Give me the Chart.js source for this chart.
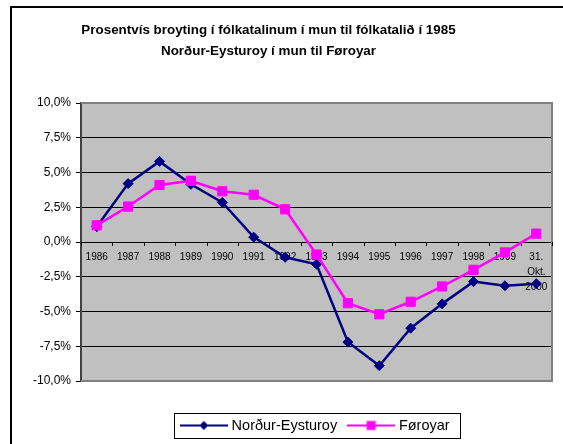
<!DOCTYPE html>
<html><head><meta charset="utf-8">
<script src="https://cdn.jsdelivr.net/npm/chart.js@4"></script>
<style>html,body{margin:0;padding:0;background:#fff}#wrap{width:563px;height:444px;position:relative}</style>
</head><body><div id="wrap"><canvas id="c"></canvas></div>
<script>
const categories = ['1986','1987','1988','1989','1990','1991','1992','1993','1994','1995','1996','1997','1998','1999',['31.','Okt.','2000']];
const nordurEysturoy = [1.1, 4.2, 5.8, 4.15, 2.85, 0.35, -1.1, -1.6, -7.2, -8.9, -6.2, -4.45, -2.85, -3.15, -3.0];
const foroyar = [1.2, 2.55, 4.1, 4.4, 3.65, 3.4, 2.35, -0.9, -4.4, -5.2, -4.3, -3.2, -2.0, -0.75, 0.6];
const yTickLabels = ['-10,0%','-7,5%','-5,0%','-2,5%','0,0%','2,5%','5,0%','7,5%','10,0%'];
const seriesNames = ['Norður-Eysturoy','Føroyar'];
const titleLines = ['Prosentvís broyting í fólkatalinum í mun til fólkatalið í 1985','Norður-Eysturoy í mun til Føroyar'];

const colors = ['#000080','#ff00ff'];
const FONT = 'Liberation Sans';

function makeSample(color, kind){
  const c = document.createElement('canvas');
  c.width = 48; c.height = 12;
  const g = c.getContext('2d');
  g.strokeStyle = color; g.lineWidth = 2;
  g.beginPath(); g.moveTo(0,6); g.lineTo(48,6); g.stroke();
  g.fillStyle = color;
  if (kind === 'diamond') {
    g.beginPath(); g.moveTo(24,1.5); g.lineTo(28.5,6); g.lineTo(24,10.5); g.lineTo(19.5,6); g.closePath(); g.fill();
  } else {
    g.fillRect(19.5,1.5,9,9);
  }
  return c;
}
const samples = [makeSample(colors[0],'diamond'), makeSample(colors[1],'square')];

const framePlugin = {
  id: 'frame',
  afterLayout(chart){
    const t = chart.titleBlock;
    if (t) { t.left = 0; t.right = 537; t.width = 537; }
    const lg = chart.legend;
    if (lg) {
      const p = lg.options.labels.padding;
      const fs = lg.options.labels.font.size;
      const desiredTop = 425.5 - p - fs/2;
      const dy = desiredTop - lg.top;
      lg.top += dy; lg.bottom += dy;
    }
  },
  beforeDraw(chart){
    const {ctx, chartArea: a} = chart;
    ctx.save();
    ctx.fillStyle = '#fff';
    ctx.fillRect(0,0,chart.width,chart.height);
    ctx.strokeStyle = '#000'; ctx.lineWidth = 2;
    ctx.beginPath(); ctx.moveTo(11, chart.height + 5); ctx.lineTo(11, 7); ctx.lineTo(chart.width + 5, 7); ctx.stroke();
    ctx.fillStyle = '#c0c0c0';
    ctx.fillRect(a.left, a.top, a.right - a.left, a.bottom - a.top);
    ctx.restore();
  },
  beforeDatasetsDraw(chart){
    const {ctx, chartArea: a} = chart;
    const xs = chart.scales.x, ys = chart.scales.y;
    ctx.save();
    ctx.strokeStyle = '#808080'; ctx.lineWidth = 2;
    ctx.beginPath();
    ctx.moveTo(a.left, a.top); ctx.lineTo(a.right, a.top); ctx.lineTo(a.right, a.bottom); ctx.lineTo(a.left, a.bottom);
    ctx.stroke();
    const y0 = Math.round(ys.getPixelForValue(0));
    ctx.strokeStyle = '#000'; ctx.lineWidth = 1;
    ctx.beginPath();
    for (let i = 0; i <= categories.length; i++) {
      const x = Math.round(xs.getPixelForValue(i - 0.5)) + 0.5;
      ctx.moveTo(x, y0); ctx.lineTo(x, y0 + 4);
    }
    ctx.stroke();
    ctx.restore();
  },
  afterDraw(chart){
    const lg = chart.legend;
    if (!lg || !lg.legendHitBoxes || !lg.legendHitBoxes.length) return;
    const hb = lg.legendHitBoxes;
    const first = hb[0], last = hb[hb.length-1];
    const left = first.left - 9.5;
    const right = last.left + last.width + 10;
    const cy = first.top + first.height/2;
    const ctx = chart.ctx;
    ctx.save();
    ctx.strokeStyle = '#000'; ctx.lineWidth = 1;
    ctx.strokeRect(Math.round(left)+0.5, Math.round(cy - 12.5)+0.5, Math.round(right-left), 25);
    ctx.restore();
  }
};

new Chart(document.getElementById('c'), {
  type: 'line',
  data: {
    labels: categories,
    datasets: [
      { label: seriesNames[0], data: nordurEysturoy, borderColor: colors[0], backgroundColor: colors[0],
        borderWidth: 2.5, pointStyle: 'rectRot', pointRadius: 5, pointBorderWidth: 1,
        pointBackgroundColor: colors[0], pointBorderColor: colors[0], tension: 0, order: 1 },
      { label: seriesNames[1], data: foroyar, borderColor: colors[1], backgroundColor: colors[1],
        borderWidth: 2.5, pointStyle: 'rect', pointRadius: 6.5, pointBorderWidth: 1,
        pointBackgroundColor: colors[1], pointBorderColor: colors[1], tension: 0, order: 0 }
    ]
  },
  options: {
    responsive: true, maintainAspectRatio: false, animation: false, devicePixelRatio: 1,
    events: [],
    layout: { padding: { left: 0, right: 11, top: 0, bottom: 25 } },
    scales: {
      x: {
        type: 'category', offset: true, position: { y: 0 },
        grid: { display: false, drawOnChartArea: false, drawTicks: true, tickLength: 4, offset: true },
        border: { display: true, color: '#000', width: 1 },
        ticks: { color: '#000', font: { family: FONT, size: 10, lineHeight: 1.5 }, padding: 4,
                 autoSkip: false, maxRotation: 0, minRotation: 0 }
      },
      y: {
        min: -10, max: 10,
        ticks: { stepSize: 2.5, color: '#000', font: { family: FONT, size: 12 }, padding: 5,
                 callback: (v, i) => yTickLabels[i] },
        grid: { color: (c) => (c.index === 0 || c.index === yTickLabels.length - 1) ? 'rgba(0,0,0,0)' : '#000',
                tickColor: '#000', tickLength: 5, lineWidth: 1 },
        border: { color: '#404040', width: 2 },
        afterFit: (s) => { s.width = 81; }
      }
    },
    plugins: {
      tooltip: { enabled: false },
      title: {
        display: true, text: titleLines, color: '#000',
        font: { family: FONT, size: 13.4, weight: 'bold', lineHeight: 1.545 },
        padding: { top: 20.4, bottom: 41.2 }
      },
      legend: {
        display: true, position: 'bottom', fullSize: false, align: 'center',
        labels: {
          usePointStyle: true, pointStyleWidth: 41, padding: 13.5, color: '#000',
          font: { family: FONT, size: 14.5 },
          generateLabels: () => seriesNames.map((n, i) => ({
            text: n, fillStyle: colors[i], strokeStyle: colors[i], lineWidth: 0,
            pointStyle: samples[i], hidden: false, datasetIndex: i, fontColor: '#000'
          }))
        }
      }
    }
  },
  plugins: [framePlugin]
});
</script>
</body></html>
